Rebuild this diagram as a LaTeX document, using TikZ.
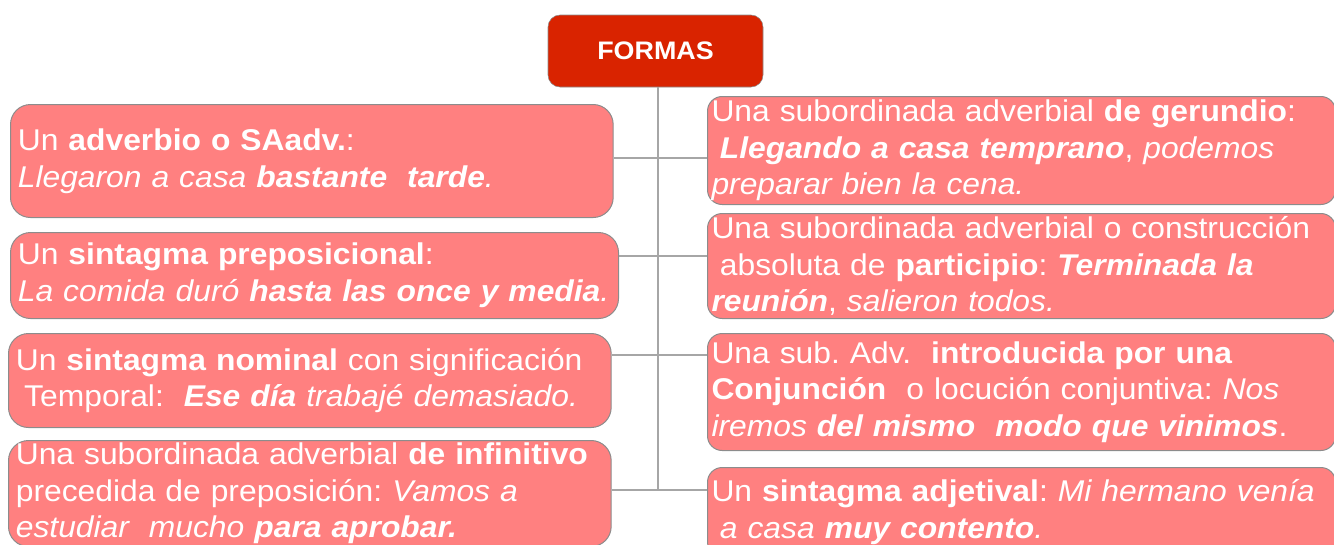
\documentclass[tikz,border=0pt]{standalone}
\usepackage{fontspec}
\setmainfont{Liberation Sans}[FakeStretch=1.06]
\usepackage{tikz}

\definecolor{formasred}{HTML}{D92300}
\definecolor{salmon}{HTML}{FF8080}
\definecolor{edgegray}{HTML}{8C8C8C}
\definecolor{linkgray}{HTML}{A6A6A6}

% leading space kept at the start of a line
\newcommand{\lsp}{\hspace*{0.28em}}

\tikzset{
    formbox/.style={draw=edgegray, line width=0.75pt, fill=salmon, text=white,
        align=left, anchor=north west, inner ysep=0pt,
        font=\frenchspacing\fontsize{22.5pt}{27.5pt}\selectfont},
    leftbox/.style={formbox, rounded corners=15pt, inner xsep=5.5pt, text width=441pt},
    rightbox/.style={formbox, rounded corners=11pt, inner xsep=3pt, text width=465pt},
    link/.style={draw=linkgray, line width=1pt}
}

\begin{document}
\begin{tikzpicture}[x=0.75pt, y=-0.75pt]

    \useasboundingbox (0,0) rectangle (1334,544);

    % Title
    \node (F) [fill=formasred, draw=edgegray, rounded corners=9pt,
        minimum width=161.25pt, minimum height=54pt, text=white,
        font=\bfseries\fontsize{19pt}{22pt}\selectfont] at (655.5,51) {FORMAS};

    % Junctions on the trunk
    \coordinate (j1) at (658,158);
    \coordinate (j2) at (658,256);
    \coordinate (j3) at (658,355);
    \coordinate (j4) at (658,490);

    % Left column
    \node (L1) [leftbox, minimum height=84.75pt] at (10,104) {
        Un \textbf{adverbio o SAadv.}:\\
        \textit{Llegaron a casa \textbf{bastante\ \ tarde}.}};
    \node (L2) [leftbox, text width=445pt, minimum height=64.5pt] at (10,232) {
        Un \textbf{sintagma preposicional}:\\
        \textit{La comida duró \textbf{hasta las once y media}.}};
    \node (L3) [leftbox, minimum height=70.5pt] at (8,333) {
        Un \textbf{sintagma nominal} con significación\\
        \lsp Temporal:\ \ \textbf{\textit{Ese día}} \textit{trabajé demasiado.}};
    \node (L4) [leftbox, minimum height=79.5pt] at (8,440) {
        Una subordinada adverbial \textbf{de infinitivo}\\
        precedida de preposición: \textit{Vamos a}\\
        \textit{estudiar\ \ mucho \textbf{para aprobar.}}};

    % Right column
    \node (R1) [rightbox, minimum height=81pt] at (707,96) {
        Una subordinada adverbial \textbf{de gerundio}:\\
        \lsp\textbf{\textit{Llegando a casa temprano}}, \textit{podemos}\\
        \textit{preparar bien la cena.}};
    \node (R2) [rightbox, minimum height=78.75pt] at (707,213) {
        Una subordinada adverbial o construcción\\
        \lsp absoluta de \textbf{participio}: \textbf{\textit{Terminada la}}\\
        \textbf{\textit{reunión}}, \textit{salieron todos.}};
    \node (R3) [rightbox, minimum height=87.75pt] at (707,333) {
        Una sub. Adv.\ \ \textbf{introducida por una}\\
        \textbf{Conjunción}\ \ o locución conjuntiva: \textit{Nos}\\
        \textit{iremos \textbf{del mismo\ \ modo que vinimos}}.};
    \node (R4) [rightbox, minimum height=66.75pt] at (707,467) {
        Un \textbf{sintagma adjetival}: \textit{Mi hermano venía}\\
        \lsp\textit{a casa \textbf{muy contento}.}};

    % Links
    \draw[link] (F.south -| j1) -- (j4);
    \draw[link] (j1 -| L1.east) -- (j1 -| R1.west);
    \draw[link] (j2 -| L2.east) -- (j2 -| R2.west);
    \draw[link] (j3 -| L3.east) -- (j3 -| R3.west);
    \draw[link] (j4 -| L4.east) -- (j4 -| R4.west);

\end{tikzpicture}
\end{document}
